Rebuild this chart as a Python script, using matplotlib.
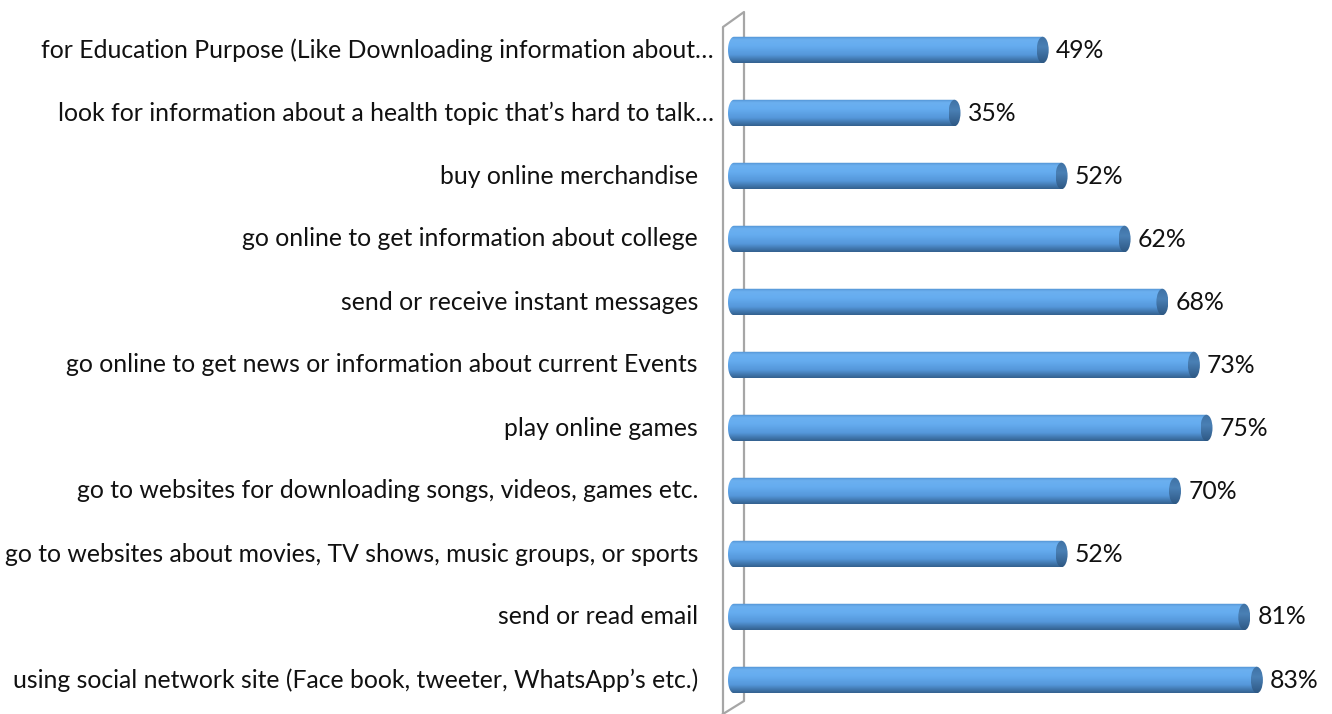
import numpy as np
from matplotlib import pyplot as plt
from matplotlib.colors import LinearSegmentedColormap
from matplotlib.patches import Polygon, Ellipse
from matplotlib.lines import Line2D

# activities, top to bottom
activities = [
    'for Education Purpose (Like Downloading information about\u2026',
    'look for information about a health topic that\u2019s hard to talk\u2026',
    'buy online merchandise',
    'go online to get information about college',
    'send or receive instant messages',
    'go online to get news or information about current Events',
    'play online games',
    'go to websites for downloading songs, videos, games etc.',
    'go to websites about movies, TV shows, music groups, or sports',
    'send or read email',
    'using social network site (Face book, tweeter, WhatsApp\u2019s etc.)',
]
percent = [49, 35, 52, 62, 68, 73, 75, 70, 52, 81, 83]

W, H = 1332, 714
plt.rcParams['font.family'] = ['Lato', 'DejaVu Sans']
fs = 17.8

fig = plt.figure(figsize=(W / 100, H / 100), dpi=100)
fig.patch.set_facecolor('white')

# zero at px 734, 6.3 px per percent, rows every 63 px starting at 50
x0_px, px_per = 734, 6.3
ax_left = 700
row0, row_step = 50, 63
ax = fig.add_axes([ax_left / W, 0, 1 - ax_left / W, 1])
ax.set_xlim(-(x0_px - ax_left) / px_per, (W - x0_px) / px_per)
ax.set_ylim((H - row0) / row_step, -row0 / row_step)
ax.axis('off')

body_cmap = LinearSegmentedColormap.from_list('body', [
    (0.0, '#4f8fcf'), (0.12, '#6cb0f0'), (0.35, '#66adf0'),
    (0.7, '#5597da'), (0.9, '#3e73a8'), (1.0, '#34618f')])
cap_cmap = LinearSegmentedColormap.from_list('cap', [
    (0.0, '#3f72a4'), (0.4, '#4a80b5'), (1.0, '#2e5884')])
grad = np.linspace(0, 1, 64).reshape(-1, 1)

bar_h = 0.42
ew = 12 / px_per  # width of the end ellipse in data units

for i, v in enumerate(percent):
    y = i
    # rounded left end, then straight body to the value
    t = np.linspace(np.pi / 2, 3 * np.pi / 2, 40)
    left = np.column_stack([ew / 2 * np.cos(t), y + bar_h / 2 * np.sin(t)])
    pts = np.vstack([left, [[v, y - bar_h / 2], [v, y + bar_h / 2]]])
    clip = Polygon(pts, closed=True, transform=ax.transData, facecolor='none', edgecolor='none')
    ax.add_patch(clip)
    im = ax.imshow(grad, cmap=body_cmap, aspect='auto', interpolation='bicubic',
                   extent=[-ew / 2, v, y + bar_h / 2, y - bar_h / 2], zorder=2)
    im.set_clip_path(clip)

    cap = Ellipse((v, y), ew, bar_h, transform=ax.transData, facecolor='none', edgecolor='none')
    ax.add_patch(cap)
    im2 = ax.imshow(grad, cmap=cap_cmap, aspect='auto', interpolation='bicubic',
                    extent=[v - ew / 2, v + ew / 2, y + bar_h / 2, y - bar_h / 2], zorder=3)
    im2.set_clip_path(cap)

    ax.annotate(f'{v}%', (v, y), xytext=(9.5, 0), textcoords='offset points',
                ha='left', va='center', fontsize=fs, color='#111111')

# category labels; truncated ones run a little further right
for i, lab in enumerate(activities):
    right = 714 if lab.endswith('\u2026') else 698
    fig.text(right / W, 1 - (row0 + row_step * i) / H, lab, ha='right', va='center',
             fontsize=fs, color='#111111')

# side wall of the 3d frame
wall_x = [723, 723, 744, 744, 723]
wall_y = [714, 27, 12, 701, 714]
fig.add_artist(Line2D([x / W for x in wall_x], [1 - y / H for y in wall_y],
                      color='#a6a6a6', linewidth=1.6, transform=fig.transFigure, zorder=1))
ax.set_zorder(2)

fig.savefig('out.png', dpi=100, facecolor='white')
